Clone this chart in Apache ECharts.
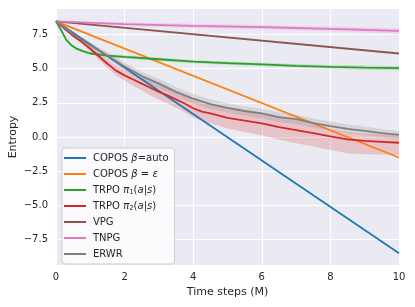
<!DOCTYPE html>
<html><head><meta charset="utf-8">
<script src="https://cdn.jsdelivr.net/npm/echarts@6/dist/echarts.min.js"></script>
<style>html,body{margin:0;padding:0;background:#fff}#c{width:415px;height:307px}</style>
</head><body><div id="c"></div>
<script>
const seriesNames = ['COPOS β=auto','COPOS β = ε','TRPO π1(a|s)','TRPO π2(a|s)','VPG','TNPG','ERWR'];
const colors = ['#1f77b4','#ff7f0e','#2ca02c','#d62728','#8c564b','#e377c2','#7f7f7f'];
const xTicks = [0,2,4,6,8,10];
const yTicks = [-7.5,-5,-2.5,0,2.5,5,7.5];

const blueT = [0,10];
const blueV = [8.45,-8.5];
const orangeT = [0,10];
const orangeV = [8.45,-1.5];
const greenT = [0,0.15,0.3,0.45,0.6,0.8,1.0,1.5,2,3,4,5,6,7,8,9,10];
const greenV = [8.45,7.8,7.1,6.7,6.45,6.25,6.1,5.95,5.85,5.68,5.5,5.4,5.3,5.2,5.12,5.07,5.03];
const greenLo = [8.45,7.7,7.0,6.6,6.35,6.15,6.0,5.85,5.73,5.56,5.38,5.28,5.17,5.07,4.98,4.92,4.88];
const greenHi = [8.45,7.9,7.2,6.8,6.55,6.35,6.2,6.05,5.97,5.8,5.62,5.52,5.43,5.33,5.26,5.22,5.18];
const redT = [0,0.25,0.5,0.75,1,1.25,1.5,1.75,2,2.25,2.5,2.75,3,3.25,3.5,3.75,4,4.25,4.5,5,5.5,6,6.5,7,7.5,8,8.5,9,9.5,10];
const redV = [8.45,7.9,7.4,6.95,6.45,5.9,5.35,4.85,4.5,4.2,3.9,3.6,3.3,3.05,2.75,2.45,2.1,1.85,1.72,1.4,1.2,1.0,0.72,0.5,0.28,0.05,-0.18,-0.28,-0.35,-0.42];
const redHi = [8.45,7.98,7.52,7.10,6.65,6.15,5.65,5.20,4.88,4.62,4.36,4.10,3.82,3.60,3.32,3.03,2.70,2.47,2.35,2.06,1.90,1.72,1.46,1.22,0.90,0.55,0.35,0.24,0.19,0.14];
const redLo = [8.45,7.82,7.28,6.80,6.25,5.65,5.05,4.50,4.10,3.75,3.40,3.05,2.72,2.45,2.13,1.81,1.44,1.15,1.00,0.62,0.36,0.12,-0.20,-0.45,-0.70,-0.95,-1.18,-1.26,-1.28,-1.32];
const brownT = [0,10];
const brownV = [8.45,6.1];
const pinkT = [0,2,4,6,8,10];
const pinkV = [8.45,8.25,8.12,8.02,7.9,7.75];
const pinkHi = [8.45,8.38,8.27,8.18,8.08,7.95];
const pinkLo = [8.45,8.12,7.97,7.86,7.72,7.55];
const grayT = [0,0.5,1,1.5,2,2.5,3,3.5,4,4.5,5,5.5,6,6.5,7,7.5,8,8.5,9,9.5,10];
const grayV = [8.45,7.5,6.7,5.95,5.15,4.45,3.9,3.3,2.8,2.4,2.12,1.9,1.72,1.45,1.3,1.02,0.8,0.6,0.45,0.28,0.15];
const grayHi = [8.45,7.65,6.9,6.2,5.45,4.77,4.23,3.65,3.15,2.75,2.47,2.25,2.07,1.8,1.65,1.36,1.13,0.92,0.76,0.58,0.44];
const grayLo = [8.45,7.35,6.5,5.7,4.85,4.13,3.57,2.95,2.45,2.05,1.77,1.55,1.37,1.1,0.95,0.68,0.47,0.28,0.14,-0.02,-0.14];

function pairs(t, v){ return t.map((x,i)=>[x,v[i]]); }
function hexA(h,a){const r=parseInt(h.slice(1,3),16),g=parseInt(h.slice(3,5),16),b=parseInt(h.slice(5,7),16);return `rgba(${r},${g},${b},${a})`;}
function band(t, lo, hi, color, alpha){
  return {
    type:'custom', silent:true, z:2, data:[0], legendHoverLink:false,
    renderItem:function(params, api){
      const pts=[];
      for(let i=0;i<t.length;i++) pts.push(api.coord([t[i],hi[i]]));
      for(let i=t.length-1;i>=0;i--) pts.push(api.coord([t[i],lo[i]]));
      return {type:'polygon', shape:{points:pts}, style:{fill:hexA(color,alpha)}};
    }
  };
}
function line(name, t, v, color){
  return {name:name, type:'line', data:pairs(t,v), showSymbol:false, symbol:'none', z:3,
    lineStyle:{color:color, width:1.8}, itemStyle:{color:color}, animation:false};
}
const font = 'DejaVu Sans';
const txt = '#262626';

const series = [
  {type:'line', data:[], silent:true, z:1,
   markLine:{silent:true, symbol:'none', z:1, label:{show:false}, animation:false,
     lineStyle:{color:'#ffffff', width:1, type:'solid'},
     data: yTicks.map(y=>({yAxis:y}))}},
  band(greenT, greenLo, greenHi, colors[2], 0.2),
  band(redT, redLo, redHi, colors[3], 0.2),
  band(pinkT, pinkLo, pinkHi, colors[5], 0.2),
  band(grayT, grayLo, grayHi, colors[6], 0.2),
  line(seriesNames[0], blueT, blueV, colors[0]),
  line(seriesNames[1], orangeT, orangeV, colors[1]),
  line(seriesNames[2], greenT, greenV, colors[2]),
  line(seriesNames[3], redT, redV, colors[3]),
  line(seriesNames[4], brownT, brownV, colors[4]),
  line(seriesNames[5], pinkT, pinkV, colors[5]),
  line(seriesNames[6], grayT, grayV, colors[6])
];

const legendRich = {
  f:{fontFamily:font, fontSize:10, color:txt, padding:[0,0,0,2]},
  n:{fontFamily:font, fontSize:10, color:txt},
  i:{fontFamily:font, fontSize:10, color:txt, fontStyle:'italic'},
  s:{fontFamily:font, fontSize:7, color:txt, verticalAlign:'bottom'}
};
function legendFmt(name){
  switch(name){
    case seriesNames[0]: return '{f|COPOS }{i|β}{n|=auto}';
    case seriesNames[1]: return '{f|COPOS }{i|β}{n| = }{i|ε}';
    case seriesNames[2]: return '{f|TRPO }{i|π}{s|1}{n|(}{i|a}{n||}{i|s}{n|)}';
    case seriesNames[3]: return '{f|TRPO }{i|π}{s|2}{n|(}{i|a}{n||}{i|s}{n|)}';
    default: return '{f|'+name+'}';
  }
}

const chart = echarts.init(document.getElementById('c'), null, {renderer:'canvas'});
chart.setOption({
  animation:false,
  backgroundColor:'#ffffff',
  grid:{left:56, right:16, top:9, bottom:42, show:true, backgroundColor:'#EAEAF2', borderWidth:0, z:0,
    containLabel:false, outerBoundsMode:'none'},
  xAxis:{type:'value', min:0, max:10, interval:2,
    name:'Time steps (M)', nameLocation:'middle', nameGap:22, nameMoveOverlap:false,
    nameTextStyle:{fontFamily:font, fontSize:11, color:txt},
    axisLine:{show:false}, axisTick:{show:false},
    axisLabel:{fontFamily:font, fontSize:10, color:txt, margin:7},
    splitLine:{show:true, lineStyle:{color:'#ffffff', width:1}}},
  yAxis:{type:'value', min:-9.35, max:9.35,
    name:'Entropy', nameLocation:'middle', nameGap:37, nameRotate:90, nameMoveOverlap:false,
    nameTextStyle:{fontFamily:font, fontSize:11, color:txt},
    axisLine:{show:false}, axisTick:{show:false, customValues:yTicks},
    axisLabel:{fontFamily:font, fontSize:10, color:txt, margin:8, customValues:yTicks,
      formatter:function(v){ const s=(Math.round(v*10)/10).toFixed(1); return s.replace('-','\u2212'); }},
    splitLine:{show:false}},
  legend:{show:true, left:62, top:148, orient:'vertical', data:seriesNames, z:10,
    icon:'rect', itemWidth:22, itemHeight:2, itemGap:4,
    padding:[4,6,4,2], backgroundColor:'rgba(255,255,255,0.8)', borderColor:'#cccccc', borderWidth:1, borderRadius:3,
    formatter:legendFmt,
    textStyle:{fontFamily:font, fontSize:10, color:txt, lineHeight:12, rich:legendRich}},
  series:series
});
</script></body></html>
